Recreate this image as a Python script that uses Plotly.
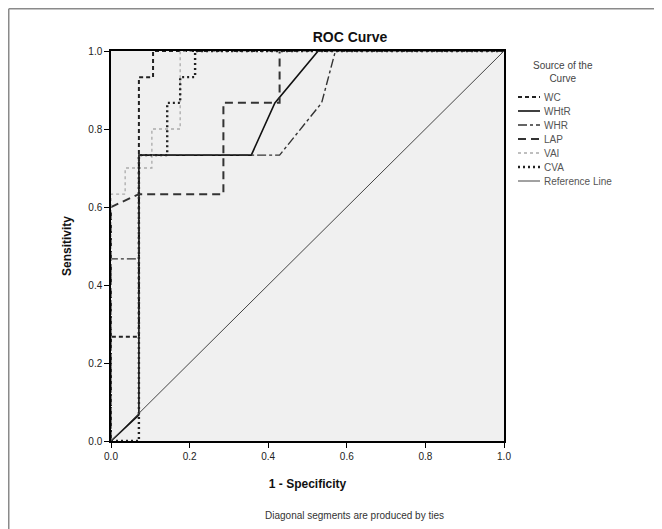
import plotly.graph_objects as go

# ROC curve data: (1 - Specificity, Sensitivity)
wc_x = [0, 0, 0.071, 0.071, 0.107, 0.107, 1]
wc_y = [0, 0.267, 0.267, 0.933, 0.933, 1.0, 1]

whtr_x = [0, 0.071, 0.071, 0.357, 0.417, 0.527, 1]
whtr_y = [0, 0.067, 0.733, 0.733, 0.867, 1.0, 1]

whr_x = [0, 0, 0.071, 0.071, 0.429, 0.536, 0.571, 1]
whr_y = [0, 0.467, 0.467, 0.733, 0.733, 0.867, 1.0, 1]

lap_x = [0, 0, 0.071, 0.286, 0.286, 0.429, 0.429, 1]
lap_y = [0, 0.6, 0.633, 0.633, 0.867, 0.867, 1.0, 1]

vai_x = [0, 0, 0.036, 0.036, 0.104, 0.104, 0.176, 0.176, 1]
vai_y = [0, 0.633, 0.633, 0.7, 0.7, 0.8, 0.8, 1.0, 1]

cva_x = [0, 0.071, 0.071, 0.143, 0.143, 0.176, 0.176, 0.214, 0.214, 1]
cva_y = [0, 0, 0.733, 0.733, 0.867, 0.867, 0.933, 0.933, 1.0, 1]

ref_x = [0, 1]
ref_y = [0, 1]

tick_vals = [0.0, 0.2, 0.4, 0.6, 0.8, 1.0]
tick_text = ["0.0", "0.2", "0.4", "0.6", "0.8", "1.0"]

series = [
    ("WC", wc_x, wc_y, dict(color="#222222", width=2, dash="4px,3px")),
    ("WHtR", whtr_x, whtr_y, dict(color="#111111", width=1.6, dash="solid")),
    ("WHR", whr_x, whr_y, dict(color="#333333", width=1.4, dash="9px,3px,3px,3px")),
    ("LAP", lap_x, lap_y, dict(color="#333333", width=2, dash="8px,5px")),
    ("VAI", vai_x, vai_y, dict(color="#aaaaaa", width=1.3, dash="3px,3px")),
    ("CVA", cva_x, cva_y, dict(color="#222222", width=2.4, dash="2px,3px")),
    ("Reference Line", ref_x, ref_y, dict(color="#444444", width=1, dash="solid")),
]

# figure geometry (the page adds an 8px body margin)
W, H = 654, 521
L, R, T, B = 103, 158, 43, 88
PW, PH = W - L - R, H - T - B


def px(fx):
    return (fx - L) / PW


def py(fy):
    return (T + PH - fy) / PH


fig = go.Figure()
for name, xs, ys, ln in series:
    fig.add_trace(go.Scatter(x=xs, y=ys, mode="lines", name=name, line=ln, showlegend=False))

axis_common = dict(
    range=[0, 1], tickvals=tick_vals, ticktext=tick_text,
    showgrid=False, zeroline=False, showline=True, linecolor="#000000",
    linewidth=1.5, mirror=True, ticks="outside", ticklen=5, tickcolor="#000000",
    tickfont=dict(family="Liberation Sans, Arial", size=10, color="#222222"),
)

shapes = [
    dict(type="line", xref="paper", yref="paper", x0=px(0.75), x1=px(0.75), y0=py(H), y1=py(0.75),
         line=dict(color="#8a8a8a", width=1.5)),
    dict(type="line", xref="paper", yref="paper", x0=px(0.75), x1=px(W), y0=py(0.75), y1=py(0.75),
         line=dict(color="#8a8a8a", width=1.5)),
]
annotations = [
    dict(text="Diagonal segments are produced by ties", xref="paper", yref="paper",
         x=px(346), y=py(507), xanchor="center", yanchor="middle", showarrow=False,
         font=dict(size=10, color="#333333")),
    dict(text="Source of the<br>Curve", xref="paper", yref="paper",
         x=px(555), y=py(63.5), xanchor="center", yanchor="middle", showarrow=False,
         align="center", font=dict(size=10, color="#444444")),
]

# custom compact legend
legend_rows = [89, 103, 117, 131, 145, 159, 173]
for (name, xs, ys, ln), ry in zip(series, legend_rows):
    shapes.append(dict(type="line", xref="paper", yref="paper", x0=px(510), x1=px(532),
                       y0=py(ry), y1=py(ry), line=ln))
    annotations.append(dict(text=name, xref="paper", yref="paper", x=px(534), y=py(ry),
                            xanchor="left", yanchor="middle", showarrow=False,
                            font=dict(size=10, color="#555555")))

fig.update_layout(
    width=W, height=H,
    margin=dict(l=L, r=R, t=T, b=B),
    paper_bgcolor="white", plot_bgcolor="#f0f0f0",
    font=dict(family="Liberation Sans, Arial", color="#222222"),
    showlegend=False,
    title=dict(text="<b>ROC Curve</b>", x=(342) / W, xanchor="center", xref="container",
               y=1 - 29 / H, yanchor="middle", yref="container",
               font=dict(size=14, color="#111111")),
    xaxis=dict(axis_common, title=dict(text="<b>1 - Specificity</b>", standoff=19,
                                       font=dict(size=12, color="#111111"))),
    yaxis=dict(axis_common, title=dict(text="<b>Sensitivity</b>", standoff=14,
                                       font=dict(size=12, color="#111111"))),
    shapes=shapes,
    annotations=annotations,
)

fig.write_html("out.html")
